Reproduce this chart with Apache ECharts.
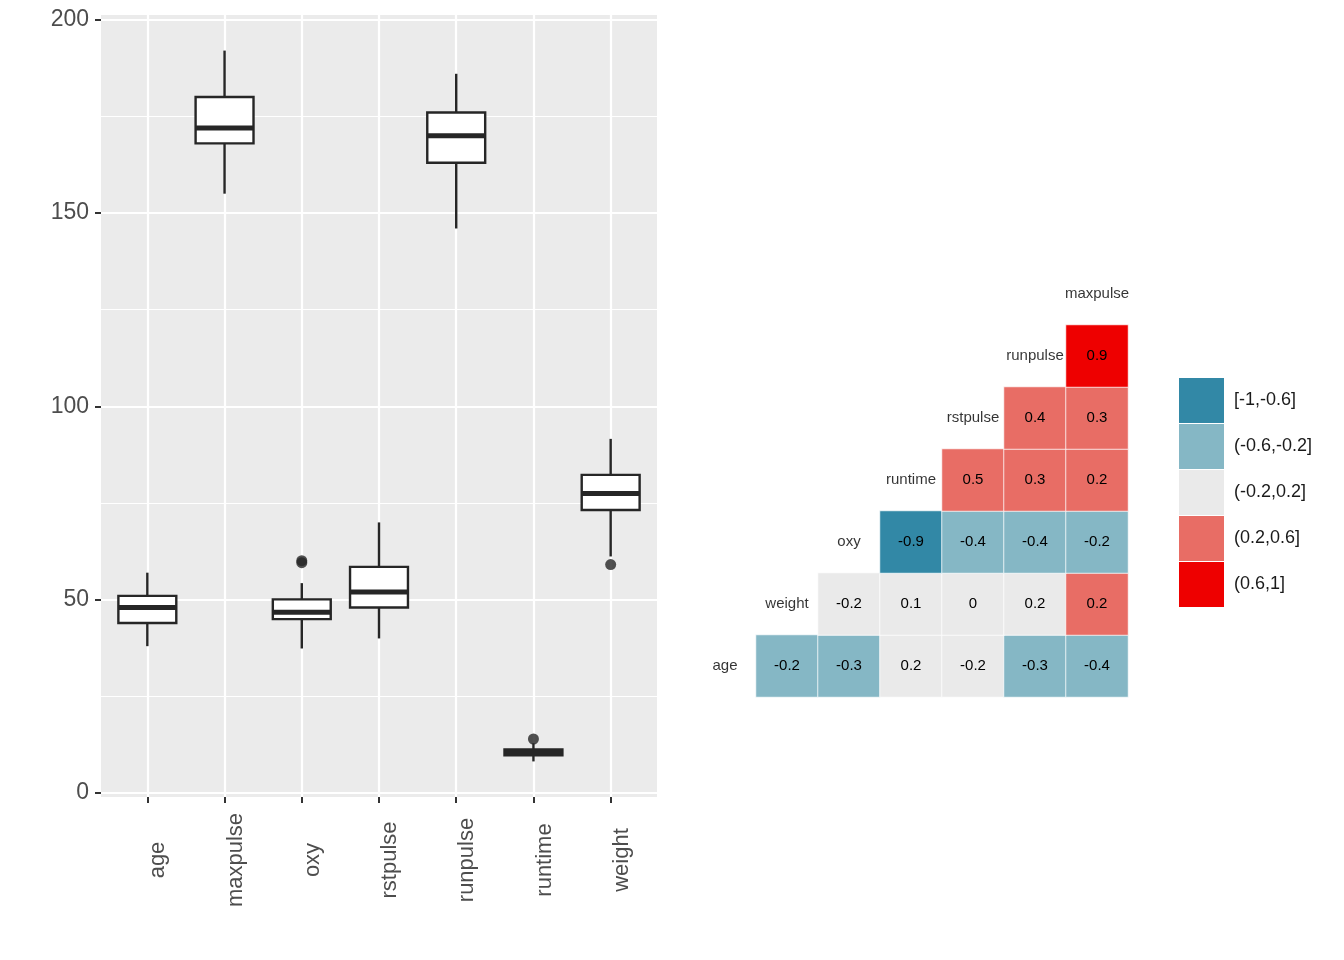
<!DOCTYPE html>
<html>
<head>
<meta charset="utf-8">
<script src="https://cdn.jsdelivr.net/npm/echarts@6/dist/echarts.min.js"></script>
<style>
html,body{margin:0;padding:0;background:#fff;}
#chart{width:1344px;height:960px;}
</style>
</head>
<body>
<div id="chart"></div>
<script>
// ---- Boxplot data ----
const categories = ['age','maxpulse','oxy','rstpulse','runpulse','runtime','weight'];
const lowWhisker  = [38, 155, 37.4, 40, 146, 8.2, 61.2];
const q1          = [44, 168, 45.0, 48, 163, 9.8, 73.2];
const median      = [48, 172, 46.8, 52, 170, 10.5, 77.5];
const q3          = [51, 180, 50.1, 58.5, 176, 11.3, 82.3];
const highWhisker = [57, 192, 54.3, 70, 186, 12.9, 91.6];
const outlierCat  = ['oxy','oxy','runtime','weight'];
const outlierVal  = [60.1, 59.6, 14.0, 59.1];
const yTicks = [0, 50, 100, 150, 200];
const yMinorTicks = [25, 75, 125, 175];

// ---- Correlation data (variables in ggcorr order) ----
const corrVars = ['age','weight','oxy','runtime','rstpulse','runpulse','maxpulse'];
const corrAge      = [-0.23, -0.30, 0.19, -0.16, -0.34, -0.43];
const corrWeight   = [-0.16, 0.14, 0.04, 0.18, 0.249];
const corrOxy      = [-0.86, -0.39, -0.40, -0.24];
const corrRuntime  = [0.452, 0.31, 0.23];
const corrRstpulse = [0.352, 0.31];
const corrRunpulse = [0.93];
const binLabels = ['[-1,-0.6]','(-0.6,-0.2]','(-0.2,0.2]','(0.2,0.6]','(0.6,1]'];
const binColors = ['#3288A6','#85B7C5','#EAEAEA','#E86D65','#EE0000'];

const FONT = '"Liberation Sans", Arial, sans-serif';

const boxData = categories.map((c, i) => [i, lowWhisker[i], q1[i], median[i], q3[i], highWhisker[i]]);
const outlierData = outlierCat.map((c, i) => [categories.indexOf(c), outlierVal[i]]);

const corrRows = [corrAge, corrWeight, corrOxy, corrRuntime, corrRstpulse, corrRunpulse];
const heatData = [];
corrRows.forEach((row, r) => {
  row.forEach((v, k) => { heatData.push([r + 1 + k, r, v]); });
});
const diagData = corrVars.map((v, i) => [i, i, v]);

const idx = corrVars.map((_, i) => String(i));

const chart = echarts.init(document.getElementById('chart'), null, {renderer: 'canvas'});
chart.setOption({
  backgroundColor: '#ffffff',
  animation: false,
  grid: [
    {left: 101, top: 15, width: 556, height: 782, show: true, backgroundColor: '#EBEBEB', borderWidth: 0},
    {left: 694, top: 263, width: 434, height: 434, show: false}
  ],
  xAxis: [
    {
      type: 'value', gridIndex: 0, min: -0.6, max: 6.6, position: 'bottom',
      axisLine: {show: false, onZero: false},
      axisTick: {show: true, length: 6, customValues: [0,1,2,3,4,5,6], lineStyle: {color: '#333333', width: 2}},
      axisLabel: {
        customValues: [0,1,2,3,4,5,6], rotate: 90, align: 'center', verticalAlign: 'top', margin: 63,
        fontSize: 22, color: '#4D4D4D', fontFamily: FONT,
        formatter: v => categories[Math.round(v)]
      },
      splitLine: {show: true, lineStyle: {color: '#ffffff', width: 2.2}}
    },
    {type: 'category', gridIndex: 1, data: idx, show: false}
  ],
  yAxis: [
    {
      type: 'value', gridIndex: 0, min: -1, max: 201.2, position: 'left',
      axisLine: {show: false, onZero: false},
      axisTick: {show: true, length: 6, customValues: yTicks, lineStyle: {color: '#333333', width: 2}},
      axisLabel: {customValues: yTicks, fontSize: 23, color: '#4D4D4D', fontFamily: FONT, margin: 12},
      splitLine: {show: true, lineStyle: {color: '#ffffff', width: 2.2}}
    },
    {
      type: 'value', gridIndex: 0, min: -1, max: 201.2, position: 'left',
      axisLine: {show: false, onZero: false},
      axisTick: {show: false, customValues: yMinorTicks},
      axisLabel: {show: false, customValues: yMinorTicks},
      splitLine: {show: true, lineStyle: {color: '#ffffff', width: 1.1}}
    },
    {type: 'category', gridIndex: 1, data: idx, show: false}
  ],
  visualMap: {
    type: 'piecewise',
    seriesIndex: 2,
    dimension: 2,
    orient: 'vertical',
    align: 'left',
    left: 1179, top: 378,
    padding: 0,
    itemWidth: 45, itemHeight: 45, itemGap: 1,
    itemSymbol: 'rect',
    textGap: 10,
    inverse: true,
    showLabel: true,
    selectedMode: false,
    textStyle: {fontSize: 18, color: '#1A1A1A', fontFamily: FONT},
    pieces: [
      {gte: -1, lte: -0.6, label: binLabels[0], color: binColors[0]},
      {gt: -0.6, lte: -0.2, label: binLabels[1], color: binColors[1]},
      {gt: -0.2, lte: 0.2, label: binLabels[2], color: binColors[2]},
      {gt: 0.2, lte: 0.6, label: binLabels[3], color: binColors[3]},
      {gt: 0.6, lte: 1, label: binLabels[4], color: binColors[4]}
    ]
  },
  series: [
    {
      type: 'custom',
      xAxisIndex: 0, yAxisIndex: 0,
      data: boxData,
      encode: {x: 0, y: [1,2,3,4,5]},
      renderItem: function (params, api) {
        const x = api.value(0);
        const w = api.size([0.75, 0])[0];
        const pLow = api.coord([x, api.value(1)]);
        const pQ1 = api.coord([x, api.value(2)]);
        const pMed = api.coord([x, api.value(3)]);
        const pQ3 = api.coord([x, api.value(4)]);
        const pHi = api.coord([x, api.value(5)]);
        const cx = pMed[0];
        const stroke = '#262626';
        return {
          type: 'group',
          children: [
            {type: 'line', shape: {x1: cx, y1: pLow[1], x2: cx, y2: pQ1[1]}, style: {stroke: stroke, lineWidth: 2.4}},
            {type: 'line', shape: {x1: cx, y1: pQ3[1], x2: cx, y2: pHi[1]}, style: {stroke: stroke, lineWidth: 2.4}},
            {type: 'rect', shape: {x: cx - w / 2, y: pQ3[1], width: w, height: pQ1[1] - pQ3[1]}, style: {fill: '#ffffff', stroke: stroke, lineWidth: 2.4}},
            {type: 'line', shape: {x1: cx - w / 2, y1: pMed[1], x2: cx + w / 2, y2: pMed[1]}, style: {stroke: stroke, lineWidth: 5}}
          ]
        };
      },
      z: 3
    },
    {
      type: 'scatter',
      xAxisIndex: 0, yAxisIndex: 0,
      data: outlierData,
      symbol: 'circle', symbolSize: 11,
      itemStyle: {color: '#262626'},
      z: 4
    },
    {
      type: 'heatmap',
      xAxisIndex: 1, yAxisIndex: 2,
      data: heatData,
      itemStyle: {borderColor: 'rgba(255,255,255,0.75)', borderWidth: 1},
      label: {
        show: true, fontSize: 15, color: '#000000', fontFamily: FONT,
        textBorderWidth: 0,
        formatter: p => String(parseFloat(p.value[2].toFixed(1)))
      },
      emphasis: {disabled: true}
    },
    {
      type: 'scatter',
      xAxisIndex: 1, yAxisIndex: 2,
      data: diagData,
      symbolSize: 0,
      label: {
        show: true, position: 'inside', fontSize: 15, color: '#000000', fontFamily: FONT,
        textBorderWidth: 0,
        formatter: p => p.value[2]
      },
      emphasis: {disabled: true},
      silent: true
    }
  ]
});
</script>
</body>
</html>
